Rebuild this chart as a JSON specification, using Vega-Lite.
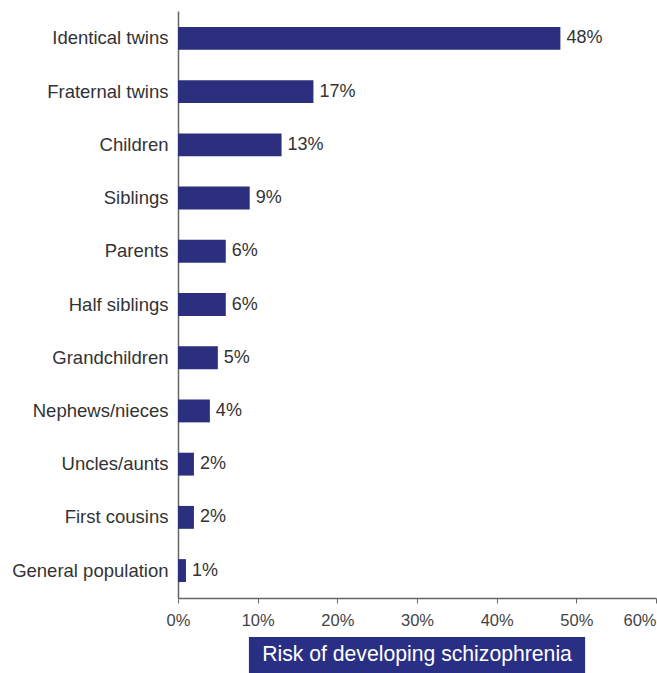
{
  "$schema": "https://vega.github.io/schema/vega-lite/v6.json",
  "padding": {"left": 11, "top": 11, "right": 2, "bottom": 0},
  "background": "white",
  "config": {"font": "Liberation Sans", "view": {"stroke": null}, "axis": {"grid": false}},
  "spacing": 8,
  "resolve": {"scale": {"x": "shared"}},
  "vconcat": [
    {
      "width": 478,
      "height": 587,
      "data": {"values": [
        {"group": "Identical twins", "risk": 0.48},
        {"group": "Fraternal twins", "risk": 0.17},
        {"group": "Children", "risk": 0.13},
        {"group": "Siblings", "risk": 0.09},
        {"group": "Parents", "risk": 0.06},
        {"group": "Half siblings", "risk": 0.06},
        {"group": "Grandchildren", "risk": 0.05},
        {"group": "Nephews/nieces", "risk": 0.04},
        {"group": "Uncles/aunts", "risk": 0.02},
        {"group": "First cousins", "risk": 0.02},
        {"group": "General population", "risk": 0.01}
      ]},
      "encoding": {
        "y": {
          "field": "group", "type": "nominal", "sort": null,
          "scale": {"paddingInner": 0.57, "paddingOuter": 0.3},
          "axis": {"title": null, "ticks": false, "labelPadding": 10, "labelFontSize": 18.5, "labelColor": "#333333", "domainColor": "#666666", "domainWidth": 1.5, "labelLimit": 300}
        },
        "x": {
          "field": "risk", "type": "quantitative",
          "scale": {"domain": [0, 0.6]},
          "axis": {"title": null, "format": ".0%", "values": [0, 0.1, 0.2, 0.3, 0.4, 0.5, 0.6], "labelFontSize": 16.5, "labelColor": "#444444", "labelFlush": false, "labelAlign": {"expr": "datum.value >= 0.6 ? 'right' : 'center'"}, "labelPadding": 9, "tickSize": 5, "tickColor": "#666666", "domainColor": "#666666", "domainWidth": 1.5}
        }
      },
      "layer": [
        {"mark": {"type": "bar", "color": "#2c2f7e"}},
        {"mark": {"type": "text", "align": "left", "baseline": "middle", "dx": 6, "fontSize": 18, "color": "#333333"},
         "encoding": {"text": {"field": "risk", "type": "quantitative", "format": ".0%"}}}
      ]
    },
    {
      "width": 478,
      "height": 36,
      "data": {"values": [{}]},
      "layer": [
        {"mark": {"type": "rect", "color": "#2a2f86"},
         "encoding": {
           "x": {"datum": 0.089, "type": "quantitative", "scale": {"domain": [0, 0.6]}, "axis": null},
           "x2": {"datum": 0.511},
           "y": {"value": 0},
           "y2": {"value": "height"}
         }},
        {"mark": {"type": "text", "color": "white", "fontSize": 21.2, "baseline": "middle", "align": "center"},
         "encoding": {
           "x": {"datum": 0.3, "type": "quantitative", "axis": null},
           "text": {"value": "Risk of developing schizophrenia"}
         }}
      ]
    }
  ]
}
